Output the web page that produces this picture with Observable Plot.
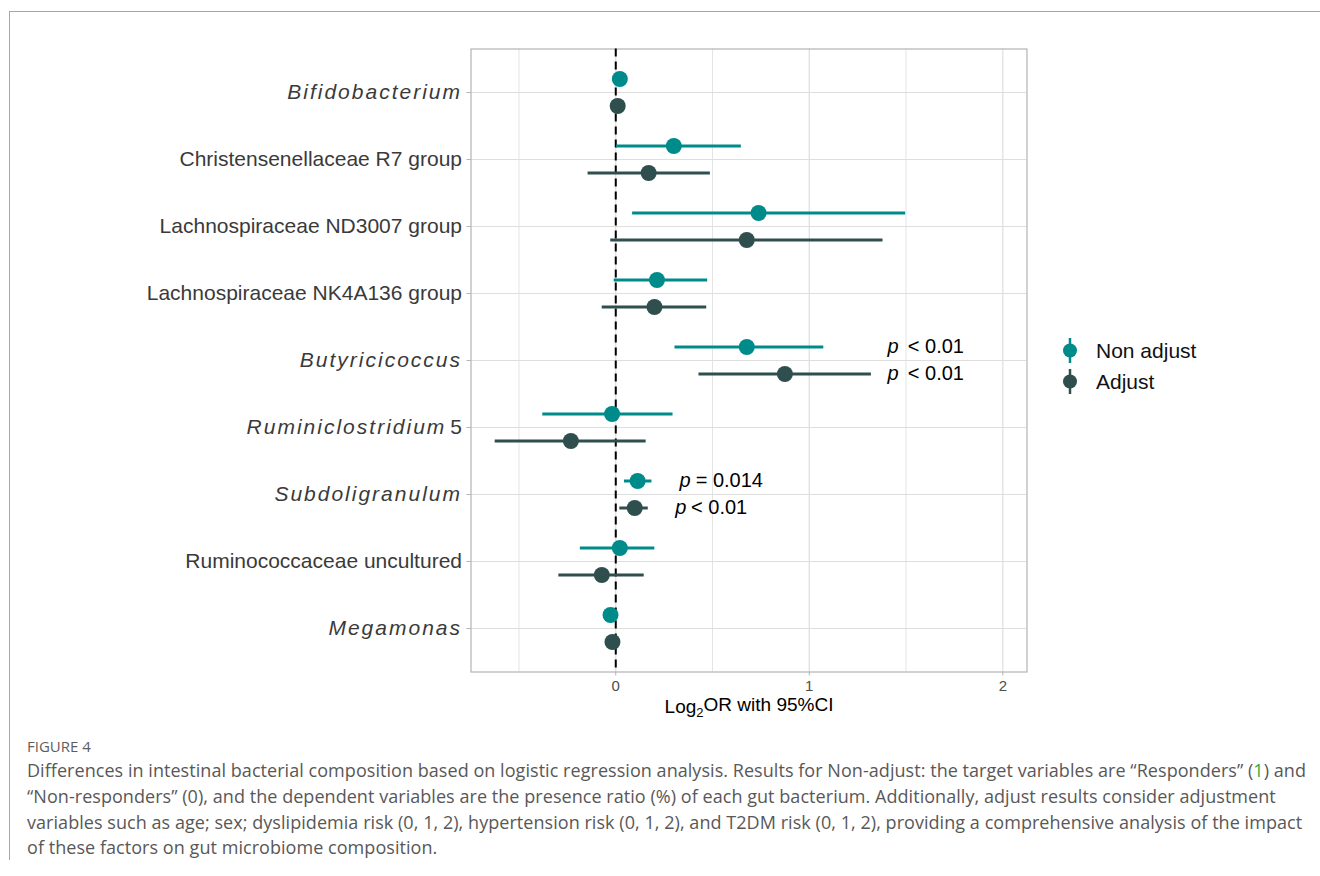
<!DOCTYPE html>
<html>
<head>
<meta charset="utf-8">
<script src="https://cdn.jsdelivr.net/npm/d3@7"></script>
<script src="https://cdn.jsdelivr.net/npm/@observablehq/plot@0.6"></script>
<style>
  html, body { margin: 0; padding: 0; background: #fff; }
  body { width: 1320px; height: 876px; position: relative; overflow: hidden; }
  #frame { position: absolute; left: 9px; top: 11px; width: 1330px; height: 848px;
           border-top: 1px solid #a6a6a6; border-left: 1px solid #a6a6a6; }
  #chart { position: absolute; left: 0; top: 0; }
  #legend { position: absolute; left: 1057px; top: 335px; font-family: "Liberation Sans", Arial, sans-serif; }
  .litem { display: flex; align-items: center; height: 31px; }
  .litem span { font-size: 21px; color: #111; margin-left: 13px; }
  #figlabel { position: absolute; left: 27px; top: 736px; font-family: "Open Sans", sans-serif;
              font-size: 15px; color: #5e5e5e; line-height: 20px; }
  #caption { position: absolute; left: 27px; top: 758px; font-family: "Open Sans", sans-serif;
             font-size: 18px; letter-spacing: 0.05px; color: #585858; line-height: 25.8px; white-space: nowrap; }
  #caption .g { color: #3aa641; }
</style>
</head>
<body>
<div id="frame"></div>
<div id="chart"></div>
<div id="legend"></div>
<div id="figlabel">FIGURE 4</div>
<div id="caption">Differences in intestinal bacterial composition based on logistic regression analysis. Results for Non-adjust: the target variables are “Responders” (<span class="g">1</span>) and<br>“Non-responders” (0), and the dependent variables are the presence ratio (%) of each gut bacterium. Additionally, adjust results consider adjustment<br>variables such as age; sex; dyslipidemia risk (0, 1, 2), hypertension risk (0, 1, 2), and T2DM risk (0, 1, 2), providing a comprehensive analysis of the impact<br>of these factors on gut microbiome composition.</div>
<script>
// ---------------- data ----------------
const categories = [
  "Bifidobacterium",
  "Christensenellaceae R7 group",
  "Lachnospiraceae ND3007 group",
  "Lachnospiraceae NK4A136 group",
  "Butyricicoccus",
  "Ruminiclostridium 5",
  "Subdoligranulum",
  "Ruminococcaceae uncultured",
  "Megamonas"
];
const italicNames = ["Bifidobacterium", "Butyricicoccus", "Ruminiclostridium", "Subdoligranulum", "Megamonas"];
const groups = ["Non adjust", "Adjust"];
const groupColors = ["#008b8b", "#2f4f4f"];

const nonAdjEst  = [0.021, 0.300, 0.738, 0.213, 0.677, -0.019, 0.113, 0.021, -0.027];
const nonAdjLow  = [0.012, 0.004, 0.087, -0.008, 0.306, -0.377, 0.045, -0.183, -0.036];
const nonAdjHigh = [0.030, 0.649, 1.498, 0.475, 1.075, 0.296, 0.187, 0.202, -0.018];

const adjEst  = [0.010, 0.170, 0.677, 0.200, 0.874, -0.232, 0.098, -0.072, -0.017];
const adjLow  = [0.001, -0.143, -0.026, -0.070, 0.430, -0.623, 0.021, -0.294, -0.026];
const adjHigh = [0.019, 0.489, 1.381, 0.470, 1.321, 0.157, 0.168, 0.147, -0.008];

const xTicks = [0, 1, 2];
const xMinor = [-0.5, 0.5, 1.5];
const xDomain = [-0.748, 2.125];
const refLine = [0];

const pCats   = ["Butyricicoccus", "Butyricicoccus", "Subdoligranulum", "Subdoligranulum"];
const pGroups = ["Non adjust", "Adjust", "Non adjust", "Adjust"];
const pRel    = ["<", "<", "=", "<"];
const pVals   = ["0.01", "0.01", "0.014", "0.01"];
const pX      = [1.404, 1.404, 0.329, 0.308];
const pRelX   = [1.509, 1.509, 0.413, 0.389];

const xTitle = "Log2OR with 95%CI";

// ---------------- build rows ----------------
const rows = [];
categories.forEach((c, i) => {
  rows.push({cat: c, group: groups[0], est: nonAdjEst[i], lo: nonAdjLow[i], hi: nonAdjHigh[i]});
  rows.push({cat: c, group: groups[1], est: adjEst[i], lo: adjLow[i], hi: adjHigh[i]});
});
const pRows = pCats.map((c, i) => ({cat: c, group: pGroups[i], px: pX[i], rx: pRelX[i], rel: pRel[i], val: pVals[i]}));

const dodge = {"Non adjust": -13.5, "Adjust": 13.5};

const groupMarks = groups.flatMap(g => {
  const d = rows.filter(r => r.group === g);
  const p = pRows.filter(r => r.group === g);
  return [
    Plot.ruleY(d, {y: "cat", x1: "lo", x2: "hi", stroke: "group", strokeWidth: 3, dy: dodge[g]}),
    Plot.dot(d, {x: "est", y: "cat", fill: "group", r: 8, dy: dodge[g]}),
    Plot.text(p, {x: "px", y: "cat", text: () => "p", fontStyle: "italic", textAnchor: "start", fontSize: 20, fill: "#000", dy: dodge[g]}),
    Plot.text(p, {x: "rx", y: "cat", text: d => d.rel + " " + d.val, textAnchor: "start", fontSize: 20, fill: "#000", dy: dodge[g]})
  ];
});

const chart = Plot.plot({
  width: 1320,
  height: 720,
  marginLeft: 470.5,
  marginRight: 293.5,
  marginTop: 48.5,
  marginBottom: 48.5,
  style: {fontFamily: "'Liberation Sans', Arial, sans-serif", fontSize: "21px", background: "transparent", overflow: "visible"},
  x: {domain: xDomain},
  y: {type: "point", domain: categories, padding: 0.6},
  color: {domain: groups, range: groupColors},
  marks: [
    Plot.gridX(xMinor, {stroke: "#e4e4e4", strokeOpacity: 1, strokeWidth: 1}),
    Plot.gridX(xTicks, {stroke: "#dedede", strokeOpacity: 1, strokeWidth: 1.2}),
    Plot.gridY(categories, {stroke: "#dedede", strokeOpacity: 1, strokeWidth: 1.2}),
    Plot.frame({stroke: "#b3b3b3", strokeWidth: 1.2}),
    Plot.axisX(xTicks, {tickSize: 4, tickPadding: 4, fontSize: 15, stroke: "#b3b3b3", fill: "#4d4d4d", label: null, tickFormat: d3.format("d")}),
    Plot.axisY(categories, {tickSize: 4, tickPadding: 5, fontSize: 21, stroke: "#b3b3b3", fill: "#3a3a3a", label: null}),
    Plot.ruleX(refLine, {stroke: "#000", strokeWidth: 2, strokeDasharray: "8,5"}),
    ...groupMarks,
    Plot.text([xTitle], {frameAnchor: "bottom", dy: 41, text: d => d, fontSize: 19, fill: "#000"})
  ]
});
document.getElementById("chart").appendChild(chart);

// italic genus labels
d3.select(chart).selectAll('g[aria-label="y-axis tick label"] text').each(function () {
  const t = this.textContent;
  const sel = d3.select(this);
  if (italicNames.includes(t)) {
    sel.attr("font-style", "italic").attr("letter-spacing", "2px");
  } else {
    const genus = italicNames.find(n => t.startsWith(n + " "));
    if (genus) {
      sel.text("");
      sel.append("tspan").attr("font-style", "italic").attr("letter-spacing", "2px").text(genus);
      sel.append("tspan").attr("dx", 4).text(t.slice(genus.length + 1));
    }
  }
});

// subscript in axis title
d3.select(chart).selectAll("text").filter(function () { return this.textContent === xTitle; }).each(function () {
  const sel = d3.select(this);
  sel.text("");
  sel.append("tspan").text("Log");
  sel.append("tspan").attr("font-size", 13).attr("dy", "0.3em").text("2");
  sel.append("tspan").attr("dy", "-0.3em").text("OR with 95%CI");
});

// legend
const legend = d3.select("#legend");
groups.forEach((g, i) => {
  const item = legend.append("div").attr("class", "litem");
  const s = item.append("svg").attr("width", 26).attr("height", 31);
  s.append("line").attr("x1", 13).attr("x2", 13).attr("y1", 3).attr("y2", 28)
    .attr("stroke", groupColors[i]).attr("stroke-width", 2.5);
  s.append("circle").attr("cx", 13).attr("cy", 15.5).attr("r", 7).attr("fill", groupColors[i]);
  item.append("span").text(g);
});
</script>
</body>
</html>
